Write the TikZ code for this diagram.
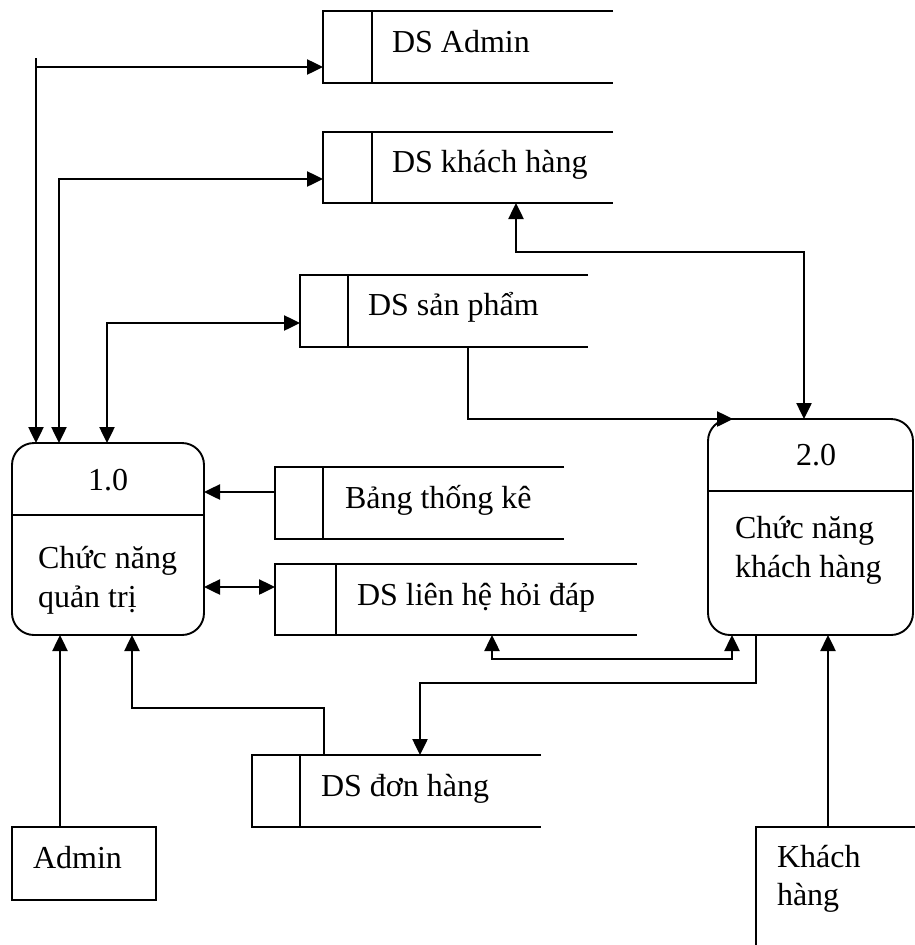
\documentclass[tikz,border=0pt]{standalone}
\usepackage{fontspec}
\setmainfont{Liberation Serif}
\usetikzlibrary{arrows.meta,calc}

% Open-ended data store: name, x1, y1, x2, y2, divider x, text x, text baseline, text
\newcommand\datastore[9]{%
  \node[hole, minimum width={(#4-#2)*1pt}, minimum height={(#5-#3)*1pt}] (#1) at (#2,#3) {};
  \draw[frame] (#1.north east) -- (#1.north west) -- (#1.south west) -- (#1.south east);
  \draw[frame] (#6,0 |- #1.north) -- (#6,0 |- #1.south);
  \node[txt] (#1-t) at (#7,#8) {#9};
}

\begin{document}
\begin{tikzpicture}[x=1pt,y=-1pt,
  every node/.style={font=\fontsize{32}{38}\selectfont, inner sep=0pt, outer sep=0pt},
  frame/.style={draw, line width=1.9pt},
  hole/.style={rectangle, anchor=north west},
  txt/.style={anchor=base west},
  wire/.style={line width=2.5pt},
  flow/.style={wire, -{Triangle[length=16pt,width=15pt]}},
  duplex/.style={wire, {Triangle[length=16pt,width=15pt]}-{Triangle[length=16pt,width=15pt]}}
]
\useasboundingbox (0,0) rectangle (915,945);
\clip (0,0) rectangle (915,945);

% data stores
\datastore{sAdmin}{323}{11}{613}{83}{372}{392}{52}{DS Admin}
\datastore{sKH}{323}{132}{613}{203}{372}{392}{172}{DS khách hàng}
\datastore{sSP}{300}{275}{588}{347}{348}{368}{315}{DS sản phẩm}
\datastore{sTK}{275}{467}{564}{539}{323}{345}{508}{Bảng thống kê}
\datastore{sLH}{275}{564}{637}{635}{336}{357}{605}{DS liên hệ hỏi đáp}
\datastore{sDH}{252}{755}{541}{827}{300}{321}{796}{DS đơn hàng}

% processes
\node[hole, frame, rounded corners=22pt, minimum width=192pt, minimum height=192pt] (P1) at (12,443) {};
\draw[frame] (P1.west |- 0,515) -- (P1.east |- 0,515);
\node[anchor=base] (P1-id) at (108,490) {1.0};
\node[txt] (P1-l1) at (38,568) {Chức năng};
\node[txt] (P1-l2) at (38,607) {quản trị};

\node[hole, frame, rounded corners=22pt, minimum width=205pt, minimum height=216pt] (P2) at (708,419) {};
\draw[frame] (P2.west |- 0,491) -- (P2.east |- 0,491);
\node[anchor=base] (P2-id) at (816,465) {2.0};
\node[txt] (P2-l1) at (735,538) {Chức năng};
\node[txt] (P2-l2) at (735,577) {khách hàng};

% external entities
\node[hole, frame, minimum width=144pt, minimum height=73pt] (Admin) at (12,827) {};
\node[txt] (Admin-t) at (33,868) {Admin};
\node[hole, frame, minimum width=200pt, minimum height=160pt] (KH) at (756,827) {};
\node[txt] (KH-l1) at (777,867) {Khách};
\node[txt] (KH-l2) at (777,905) {hàng};

% flows of 1.0
\coordinate (stubA) at (36,58);
\draw[wire] (stubA) -- (36,67);
\draw[flow] (stubA) -- (stubA |- P1.north);
\draw[flow] (36,67) -- (sAdmin.west |- 0,67);
\draw[duplex] (59,0 |- P1.north) |- (sKH.west |- 0,179);
\draw[duplex] (107,0 |- P1.north) |- (sSP.west |- 0,323);
\draw[flow] (sTK.west |- 0,492) -- (P1.east |- 0,492);
\draw[duplex] (P1.east |- 0,587) -- (sLH.west |- 0,587);
\draw[flow] (324,0 |- sDH.north) |- (132,708) -- (132,0 |- P1.south);
\draw[flow] (60,0 |- Admin.north) -- (60,0 |- P1.south);

% flows of 2.0
\draw[duplex] (516,0 |- sKH.south) -- (516,252) -| (804,0 |- P2.north);
\draw[flow] (468,0 |- sSP.south) |- (733,0 |- P2.north);
\draw[duplex] (492,0 |- sLH.south) -- (492,659) -| (732,0 |- P2.south);
\draw[flow] (756,0 |- P2.south) |- (420,683) -- (420,0 |- sDH.north);
\draw[flow] (828,0 |- KH.north) -- (828,0 |- P2.south);
\end{tikzpicture}
\end{document}
